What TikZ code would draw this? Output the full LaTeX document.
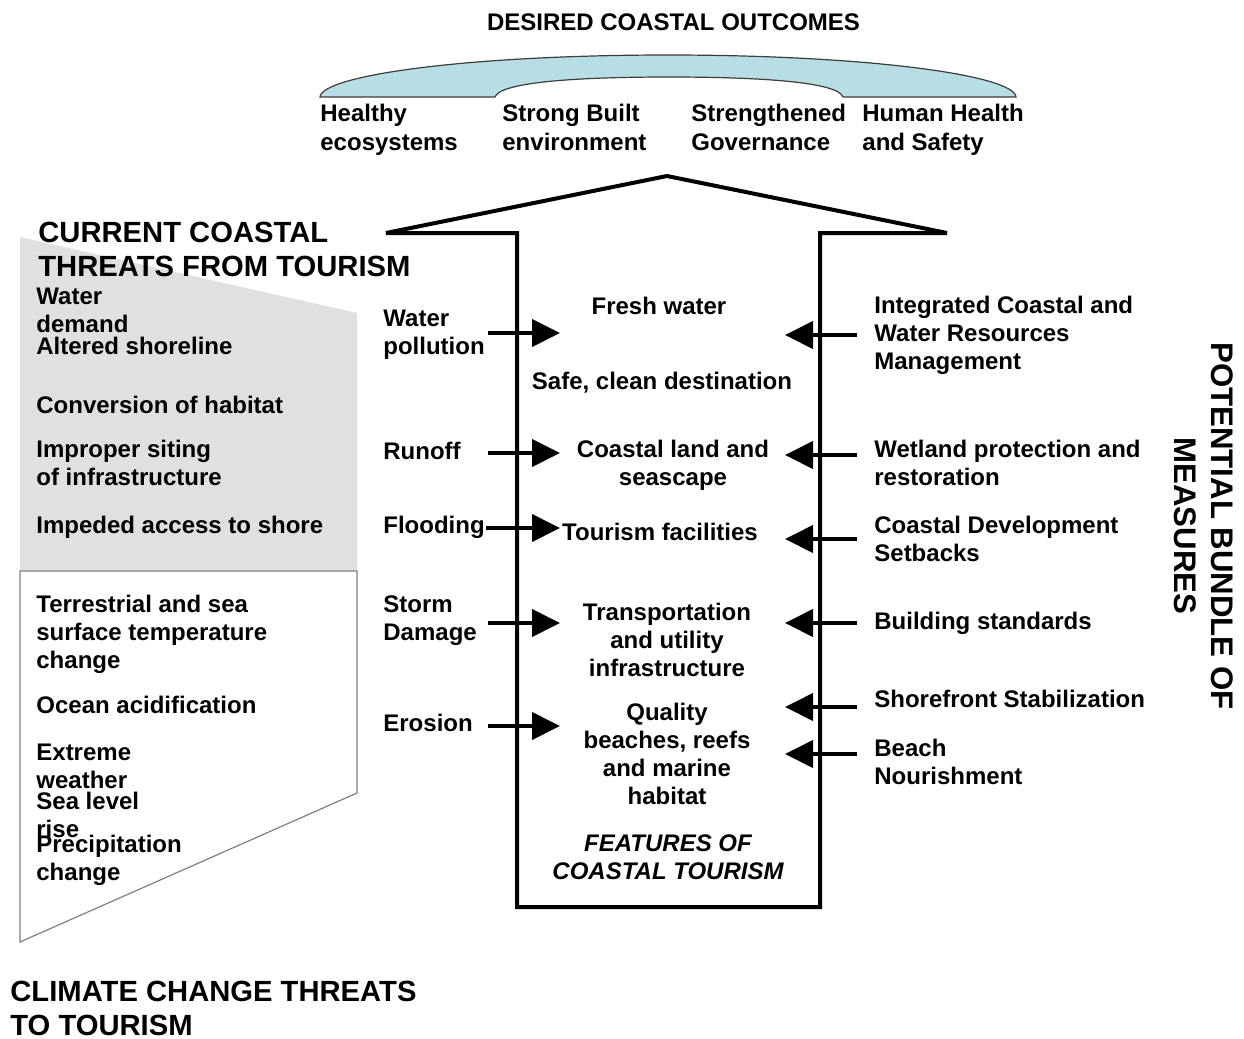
\documentclass[tikz,border=0pt]{standalone}
\usepackage{fontspec}
\setmainfont{Liberation Sans}
\usepackage{tikz}
\usetikzlibrary{arrows.meta, positioning, calc}

\begin{document}
\begin{tikzpicture}[x=0.5pt, y=-0.5pt,
  txt/.style={font=\fontsize{12}{14}\selectfont\bfseries, inner sep=0pt, align=left, anchor=north west},
  feat/.style={font=\fontsize{12}{14}\selectfont\bfseries, inner sep=0pt, align=center, anchor=north},
  head/.style={font=\fontsize{14.6}{17}\selectfont\bfseries, inner sep=0pt, align=left, anchor=north west},
  pushin/.style={line width=2pt, -{Triangle[length=14pt, width=13.5pt]}}]
  % Define constants
  \def\stemL{517}
  \def\stemR{820}
  \def\wingY{233}

  % Define colors
  \definecolor{archblue}{RGB}{183, 222, 228}
  \definecolor{archline}{RGB}{60, 60, 60}
  \definecolor{threatgray}{RGB}{224, 224, 224}
  \definecolor{boxline}{RGB}{128, 128, 128}

  % Page frame
  \useasboundingbox (0,0) rectangle (1244,1039);

  % Desired outcomes arch
  \node[font=\fontsize{12}{14}\selectfont\bfseries, inner sep=0pt] (outcomes) at (673.5,22) {DESIRED COASTAL OUTCOMES};
  \filldraw[fill=archblue, draw=archline, line width=0.6pt]
    (320,97) .. controls (322,75) and (470,55) .. (668,55)
    .. controls (866,55) and (1014,75) .. (1016,97)
    -- (843,97) .. controls (838,82) and (760,77) .. (669,77)
    .. controls (578,77) and (500,82) .. (495,97) -- cycle;
  \node[txt, font=\fontsize{12}{14.5}\selectfont\bfseries] (healthy) at (320,104) {Healthy\\ecosystems};
  \node[txt, font=\fontsize{12}{14.5}\selectfont\bfseries] (built) at (502,104) {Strong Built\\environment};
  \node[txt, font=\fontsize{12}{14.5}\selectfont\bfseries] (governance) at (691,104) {Strengthened\\Governance};
  \node[txt, font=\fontsize{12}{14.5}\selectfont\bfseries] (safety) at (862,104) {Human Health\\and Safety};

  % Big arrow (features of coastal tourism)
  \coordinate (apex) at (667,176);
  \coordinate (wingL) at (386,\wingY);
  \coordinate (wingR) at (947,\wingY);
  \draw[line width=2pt, line join=miter, miter limit=2]
    (wingL) -- (apex) -- (wingR) -- (\stemR,\wingY) -- (\stemR,907)
    -- (\stemL,907) -- (\stemL,\wingY) -- cycle;

  % Current threats panel (gray)
  \fill[threatgray] (20,237) -- (357,313) -- (357,571) -- (20,571) -- cycle;
  % Climate change panel (white)
  \draw[boxline, line width=0.6pt, fill=white] (20,571) -- (357,571) -- (357,793) -- (20,942) -- cycle;

  % Panel headings
  \node[head] (curhead) at (38,221.5) {CURRENT COASTAL\\THREATS FROM TOURISM};
  \node[head] (climhead) at (10,981) {CLIMATE CHANGE THREATS\\TO TOURISM};
  \node[font=\fontsize{15.6}{18.5}\selectfont\bfseries, inner sep=0pt, align=center, rotate=-90] (bundle) at (1203.5,526) {POTENTIAL BUNDLE OF\\MEASURES};

  % Current threats list
  \node[txt] (demand) at (36,288) {Water\\demand};
  \node[txt] (shoreline) at (36,337) {Altered shoreline};
  \node[txt] (habitat) at (36,396) {Conversion of habitat};
  \node[txt] (siting) at (36,440) {Improper siting\\of infrastructure};
  \node[txt] (access) at (36,516) {Impeded access to shore};

  % Climate change list
  \node[txt] (temp) at (36,595) {Terrestrial and sea\\surface temperature\\change};
  \node[txt] (acid) at (36,696) {Ocean acidification};
  \node[txt] (weather) at (36,744) {Extreme\\weather};
  \node[txt] (sealevel) at (36,792) {Sea level\\rise};
  \node[txt] (precip) at (36,835) {Precipitation\\change};

  % Pressures on the left of the stem
  \node[txt] (pollution) at (383,310) {Water\\pollution};
  \node[txt] (runoff) at (383,442) {Runoff};
  \node[txt] (flooding) at (383,516) {Flooding};
  \node[txt] (storm) at (383,595) {Storm\\Damage};
  \node[txt] (erosion) at (383,714) {Erosion};

  % Features inside the stem
  \node[feat] (fresh) at (659,297) {Fresh water};
  \node[feat] (safe) at (662,372) {Safe, clean destination};
  \node[feat] (land) at (673,440) {Coastal land and\\seascape};
  \node[feat] (facilities) at (660,523) {Tourism facilities};
  \node[feat] (transport) at (667,603) {Transportation\\and utility\\infrastructure};
  \node[feat] (beaches) at (667,703) {Quality\\beaches, reefs\\and marine\\habitat};
  \node[feat, font=\fontsize{12}{14}\selectfont\bfseries\itshape] (features) at (668,834) {FEATURES OF\\COASTAL TOURISM};

  % Measures on the right of the stem
  \node[txt] (iczm) at (874,296) {Integrated Coastal and\\Water Resources\\Management};
  \node[txt] (wetland) at (874,440) {Wetland protection and\\restoration};
  \node[txt] (setbacks) at (874,516) {Coastal Development\\Setbacks};
  \node[txt] (standards) at (874,612) {Building standards};
  \node[txt] (shorefront) at (874,690) {Shorefront Stabilization};
  \node[txt] (nourish) at (874,739) {Beach\\Nourishment};

  % Arrow ends, left side
  \coordinate (pollTail) at (488,333);  \coordinate (pollTip) at (560,333);
  \coordinate (runTail) at (488,453);   \coordinate (runTip) at (560,453);
  \coordinate (floodTail) at (486,528); \coordinate (floodTip) at (560,528);
  \coordinate (stormTail) at (488,623); \coordinate (stormTip) at (560,623);
  \coordinate (eroTail) at (488,726);   \coordinate (eroTip) at (560,726);

  % Arrow ends, right side
  \coordinate (iczmTail) at (857,335);  \coordinate (iczmTip) at (785,335);
  \coordinate (wetTail) at (857,455);   \coordinate (wetTip) at (785,455);
  \coordinate (setTail) at (857,539);   \coordinate (setTip) at (785,539);
  \coordinate (stdTail) at (857,623);   \coordinate (stdTip) at (785,623);
  \coordinate (stabTail) at (857,707);  \coordinate (stabTip) at (785,707);
  \coordinate (nourTail) at (857,754);  \coordinate (nourTip) at (785,754);

  % Pressure arrows
  \draw[pushin] (pollTail) -- (pollTip);
  \draw[pushin] (runTail) -- (runTip);
  \draw[pushin] (floodTail) -- (floodTip);
  \draw[pushin] (stormTail) -- (stormTip);
  \draw[pushin] (eroTail) -- (eroTip);

  % Measure arrows
  \draw[pushin] (iczmTail) -- (iczmTip);
  \draw[pushin] (wetTail) -- (wetTip);
  \draw[pushin] (setTail) -- (setTip);
  \draw[pushin] (stdTail) -- (stdTip);
  \draw[pushin] (stabTail) -- (stabTip);
  \draw[pushin] (nourTail) -- (nourTip);

\end{tikzpicture}
\end{document}
